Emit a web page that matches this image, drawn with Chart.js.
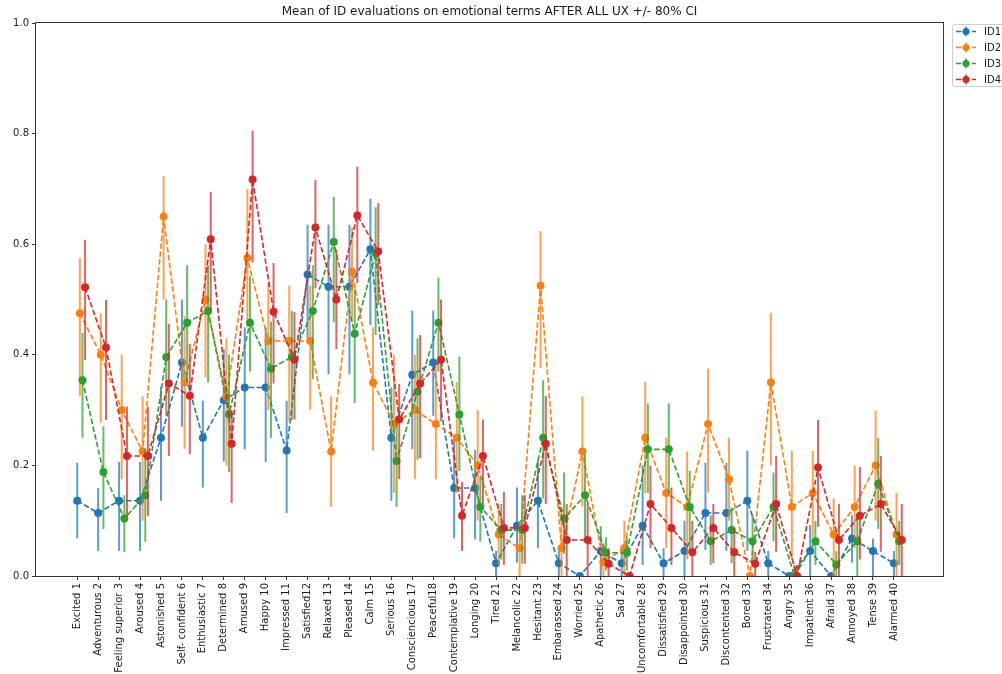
<!DOCTYPE html>
<html>
<head>
<meta charset="utf-8">
<script src="https://cdn.jsdelivr.net/npm/chart.js@4.4.0/dist/chart.umd.min.js"></script>
<style>
  html, body { margin: 0; padding: 0; background: #ffffff; }
  #wrap { width: 1002px; height: 674px; }
</style>
</head>
<body>
<div id="wrap"><canvas id="chart" width="1002" height="674"></canvas></div>
<script>
// Emotional terms evaluated after all UX sessions
const categories = [
  'Excited 1', 'Adventurous 2', 'Feeling superior 3', 'Aroused 4', 'Astonished 5',
  'Self- confident 6', 'Enthusiastic 7', 'Determined 8', 'Amused 9', 'Happy 10',
  'Impressed 11', 'Satisfied12', 'Relaxed 13', 'Pleased 14', 'Calm 15',
  'Serious 16', 'Consciencious 17', 'Peaceful18', 'Contemplative 19', 'Longing 20',
  'Tired 21', 'Melancolic 22', 'Hesitant 23', 'Embarassed 24', 'Worried 25',
  'Apathetic 26', 'Sad 27', 'Uncomfortable 28', 'Dissatisfied 29', 'Disappointed 30',
  'Suspicious 31', 'Discontented 32', 'Bored 33', 'Frustrated 34', 'Angry 35',
  'Impatient 36', 'Afraid 37', 'Annoyed 38', 'Tense 39', 'Alarmed 40'
];

const seriesNames = ['ID1', 'ID2', 'ID3', 'ID4'];
const yTicks = [0, 0.2, 0.4, 0.6, 0.8, 1.0];

// Mean per term and the 80% CI bounds
const id1 = [0.136, 0.114, 0.136, 0.136, 0.250, 0.386, 0.250, 0.318, 0.341, 0.341,
             0.227, 0.545, 0.523, 0.523, 0.591, 0.250, 0.364, 0.386, 0.159, 0.159,
             0.023, 0.091, 0.136, 0.023, 0.000, 0.045, 0.023, 0.091, 0.023, 0.045,
             0.114, 0.114, 0.136, 0.023, 0.000, 0.045, 0.000, 0.068, 0.045, 0.023];
const id1Low = [0.068, 0.045, 0.045, 0.045, 0.136, 0.270, 0.160, 0.207, 0.229, 0.206,
                0.114, 0.430, 0.365, 0.365, 0.454, 0.136, 0.229, 0.290, 0.068, 0.066,
                0.000, 0.024, 0.050, 0.000, 0.000, 0.000, 0.000, 0.020, 0.000, 0.000,
                0.047, 0.045, 0.045, 0.000, 0.000, 0.000, 0.000, 0.024, 0.000, 0.000];
const id1High = [0.205, 0.159, 0.206, 0.206, 0.342, 0.500, 0.317, 0.410, 0.450, 0.450,
                 0.317, 0.635, 0.635, 0.635, 0.682, 0.341, 0.480, 0.480, 0.250, 0.228,
                 0.045, 0.160, 0.210, 0.050, 0.000, 0.090, 0.050, 0.200, 0.050, 0.100,
                 0.205, 0.205, 0.227, 0.045, 0.000, 0.092, 0.000, 0.110, 0.068, 0.045];

const id2 = [0.475, 0.400, 0.300, 0.225, 0.650, 0.350, 0.500, 0.325, 0.575, 0.425,
             0.425, 0.425, 0.225, 0.550, 0.350, 0.275, 0.300, 0.275, 0.250, 0.200,
             0.075, 0.050, 0.525, 0.050, 0.225, 0.025, 0.050, 0.250, 0.150, 0.125,
             0.275, 0.175, 0.000, 0.350, 0.125, 0.150, 0.075, 0.125, 0.200, 0.075];
const id2Low = [0.325, 0.277, 0.175, 0.100, 0.500, 0.230, 0.360, 0.200, 0.450, 0.300,
                0.280, 0.300, 0.125, 0.460, 0.227, 0.150, 0.175, 0.175, 0.150, 0.100,
                0.020, 0.000, 0.376, 0.000, 0.125, 0.000, 0.000, 0.150, 0.050, 0.030,
                0.151, 0.100, 0.000, 0.200, 0.030, 0.070, 0.000, 0.050, 0.100, 0.000];
const id2High = [0.575, 0.475, 0.400, 0.325, 0.723, 0.470, 0.600, 0.430, 0.700, 0.530,
                 0.525, 0.525, 0.325, 0.630, 0.450, 0.400, 0.400, 0.380, 0.351, 0.300,
                 0.130, 0.100, 0.624, 0.120, 0.325, 0.060, 0.100, 0.351, 0.250, 0.225,
                 0.375, 0.250, 0.000, 0.476, 0.226, 0.226, 0.140, 0.200, 0.299, 0.150];

const id3 = [0.354, 0.188, 0.104, 0.146, 0.396, 0.458, 0.479, 0.292, 0.458, 0.375,
             0.396, 0.479, 0.604, 0.438, 0.583, 0.208, 0.333, 0.458, 0.292, 0.125,
             0.083, 0.083, 0.250, 0.104, 0.146, 0.042, 0.042, 0.229, 0.229, 0.125,
             0.063, 0.083, 0.063, 0.125, 0.000, 0.063, 0.021, 0.063, 0.167, 0.063];
const id3Low = [0.250, 0.085, 0.043, 0.062, 0.290, 0.350, 0.350, 0.188, 0.370, 0.250,
                0.282, 0.356, 0.459, 0.313, 0.436, 0.125, 0.210, 0.370, 0.190, 0.062,
                0.030, 0.022, 0.140, 0.040, 0.070, 0.010, 0.010, 0.150, 0.150, 0.050,
                0.020, 0.023, 0.020, 0.063, 0.000, 0.020, 0.000, 0.000, 0.085, 0.020];
const id3High = [0.440, 0.271, 0.146, 0.230, 0.500, 0.562, 0.562, 0.400, 0.542, 0.460,
                 0.479, 0.562, 0.686, 0.520, 0.667, 0.290, 0.430, 0.540, 0.397, 0.180,
                 0.130, 0.146, 0.354, 0.187, 0.220, 0.070, 0.070, 0.312, 0.312, 0.190,
                 0.110, 0.124, 0.110, 0.187, 0.020, 0.100, 0.045, 0.110, 0.250, 0.100];

const id4 = [0.522, 0.413, 0.217, 0.217, 0.348, 0.326, 0.609, 0.239, 0.717, 0.478,
             0.391, 0.630, 0.500, 0.652, 0.587, 0.283, 0.348, 0.391, 0.109, 0.217,
             0.087, 0.087, 0.239, 0.065, 0.065, 0.022, 0.000, 0.130, 0.087, 0.043,
             0.087, 0.043, 0.022, 0.130, 0.000, 0.196, 0.065, 0.109, 0.130, 0.065];
const id4Low = [0.390, 0.282, 0.108, 0.108, 0.217, 0.220, 0.480, 0.132, 0.567, 0.348,
                0.283, 0.520, 0.410, 0.530, 0.490, 0.175, 0.213, 0.280, 0.045, 0.130,
                0.020, 0.022, 0.130, 0.000, 0.000, 0.000, 0.000, 0.050, 0.020, 0.000,
                0.023, 0.000, 0.000, 0.044, 0.000, 0.089, 0.000, 0.030, 0.044, 0.000];
const id4High = [0.608, 0.499, 0.306, 0.306, 0.456, 0.420, 0.695, 0.300, 0.805, 0.566,
                 0.477, 0.716, 0.590, 0.740, 0.674, 0.347, 0.436, 0.500, 0.170, 0.283,
                 0.152, 0.146, 0.326, 0.130, 0.130, 0.050, 0.000, 0.200, 0.160, 0.100,
                 0.130, 0.087, 0.044, 0.217, 0.020, 0.282, 0.130, 0.197, 0.217, 0.130];

const seriesValues = [id1, id2, id3, id4];
const seriesLow = [id1Low, id2Low, id3Low, id4Low];
const seriesHigh = [id1High, id2High, id3High, id4High];

// Styling
const lineColors = ['#1f77b4', '#ff7f0e', '#2ca02c', '#d62728'];
const barColors = ['rgba(31,119,180,0.72)', 'rgba(255,127,14,0.72)', 'rgba(44,160,44,0.72)', 'rgba(214,39,40,0.72)'];
const dodge = [0, 0.125, 0.25, 0.375];
const FONT = 'DejaVu Sans';
const TEXT = '#1a1a1a';
const AXIS = '#333333';

// Horizontal extent with a 5% margin around the dodged positions
const xLast = categories.length - 1 + dodge[dodge.length - 1];
const xMargin = 0.05 * xLast;

const datasets = seriesNames.map((name, s) => ({
  label: name,
  data: seriesValues[s].map((v, i) => ({ x: i + dodge[s], y: v })),
  low: seriesLow[s],
  high: seriesHigh[s],
  barColor: barColors[s],
  borderColor: lineColors[s],
  backgroundColor: lineColors[s],
  pointBackgroundColor: lineColors[s],
  pointBorderWidth: 0,
  pointRadius: 4,
  borderWidth: 1.6,
  borderDash: [5.5, 2.4],
  tension: 0,
  fill: false,
  clip: 0,
  order: seriesNames.length - s
}));

// Vertical CI bars, drawn just before each series' own line and markers
const errorBars = {
  id: 'errorBars',
  beforeDatasetDraw(chart, args) {
    const ds = chart.data.datasets[args.index];
    const { ctx, chartArea: a, scales: { x, y } } = chart;
    ctx.save();
    ctx.beginPath();
    ctx.rect(a.left, a.top, a.right - a.left, a.bottom - a.top);
    ctx.clip();
    ctx.strokeStyle = ds.barColor;
    ctx.lineWidth = 2;
    ctx.beginPath();
    ds.data.forEach((p, i) => {
      const px = x.getPixelForValue(p.x);
      ctx.moveTo(px, y.getPixelForValue(ds.low[i]));
      ctx.lineTo(px, y.getPixelForValue(ds.high[i]));
    });
    ctx.stroke();
    ctx.restore();
  }
};

// Axes frame, title and the legend box outside the plot
const decorations = {
  id: 'decorations',
  afterDatasetsDraw(chart) {
    const { ctx, chartArea: a } = chart;
    ctx.save();
    ctx.strokeStyle = AXIS;
    ctx.lineWidth = 1;
    ctx.strokeRect(Math.round(a.left) - 0.5, Math.round(a.top) - 0.5,
                   Math.round(a.right - a.left) + 1, Math.round(a.bottom - a.top) + 1);
    ctx.restore();
  },
  afterDraw(chart) {
    const { ctx, chartArea: a } = chart;
    ctx.save();
    ctx.fillStyle = TEXT;
    ctx.font = '12px "' + FONT + '"';
    ctx.textAlign = 'center';
    ctx.textBaseline = 'middle';
    ctx.fillText('Mean of ID evaluations on emotional terms AFTER ALL UX +/- 80% CI', (a.left + a.right) / 2, 12);

    // legend
    const bx = 952.5, by = 24.5, bw = 70, bh = 62;
    ctx.fillStyle = 'rgba(255,255,255,0.85)';
    ctx.strokeStyle = '#cccccc';
    ctx.lineWidth = 1;
    ctx.beginPath();
    ctx.roundRect(bx, by, bw, bh, 2.5);
    ctx.fill();
    ctx.stroke();
    ctx.font = '10px "' + FONT + '"';
    ctx.textAlign = 'left';
    seriesNames.forEach((name, s) => {
      const cy = 31.5 + s * 16;
      ctx.strokeStyle = barColors[s];
      ctx.lineWidth = 2;
      ctx.setLineDash([]);
      ctx.beginPath();
      ctx.moveTo(966, cy - 5);
      ctx.lineTo(966, cy + 5);
      ctx.stroke();
      ctx.strokeStyle = lineColors[s];
      ctx.lineWidth = 1.6;
      ctx.setLineDash([5.5, 2.4]);
      ctx.beginPath();
      ctx.moveTo(956, cy);
      ctx.lineTo(976, cy);
      ctx.stroke();
      ctx.setLineDash([]);
      ctx.fillStyle = lineColors[s];
      ctx.beginPath();
      ctx.arc(966, cy, 3.5, 0, Math.PI * 2);
      ctx.fill();
      ctx.fillStyle = TEXT;
      ctx.fillText(name, 984, cy + 0.5);
    });
    ctx.restore();
  }
};

new Chart(document.getElementById('chart'), {
  type: 'line',
  data: { datasets },
  plugins: [errorBars, decorations],
  options: {
    responsive: false,
    animation: false,
    devicePixelRatio: 1,
    layout: { padding: { left: 0, right: 59, top: 23, bottom: 0 } },
    plugins: {
      legend: { display: false },
      tooltip: { enabled: false },
      title: { display: false }
    },
    scales: {
      x: {
        type: 'linear',
        min: -xMargin,
        max: xLast + xMargin,
        afterBuildTicks(scale) {
          scale.ticks = categories.map((_, i) => ({ value: i }));
        },
        afterFit(scale) { scale.height = 98; },
        border: { display: false },
        grid: { drawOnChartArea: false, drawTicks: true, tickLength: 4, color: AXIS, tickColor: AXIS, tickWidth: 1 },
        ticks: {
          autoSkip: false,
          minRotation: 90,
          maxRotation: 90,
          padding: 3,
          color: TEXT,
          font: { family: FONT, size: 10 },
          callback: (value, index) => categories[index]
        }
      },
      y: {
        type: 'linear',
        min: 0,
        max: 1,
        afterBuildTicks(scale) {
          scale.ticks = yTicks.map(v => ({ value: v }));
        },
        afterFit(scale) { scale.width = 36; },
        border: { display: false },
        grid: { drawOnChartArea: false, drawTicks: true, tickLength: 4, color: AXIS, tickColor: AXIS, tickWidth: 1 },
        ticks: {
          padding: 3,
          color: TEXT,
          font: { family: FONT, size: 10 },
          callback: (value) => Number(value).toFixed(1)
        }
      }
    }
  }
});
</script>
</body>
</html>
